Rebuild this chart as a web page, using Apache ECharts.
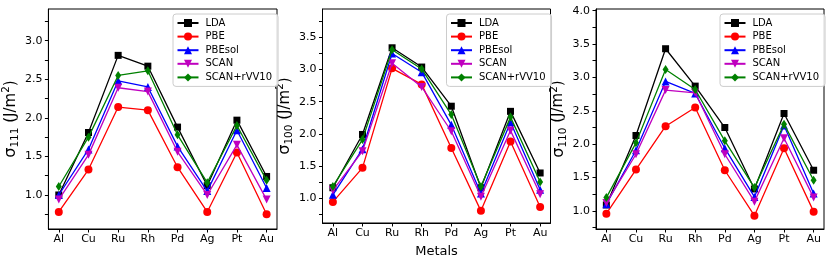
<!DOCTYPE html>
<html><head><meta charset="utf-8">
<script src="https://cdn.jsdelivr.net/npm/echarts@6/dist/echarts.min.js"></script>
<style>html,body{margin:0;padding:0;background:#fff}#c{width:831px;height:263px}</style>
</head><body><div id="c"></div>
<script>
const categories = ['Al','Cu','Ru','Rh','Pd','Ag','Pt','Au'];
const seriesNames = ['LDA','PBE','PBEsol','SCAN','SCAN+rVV10'];

// sigma_111
const s111_LDA    = [1.00, 1.81, 2.81, 2.67, 1.88, 1.12, 1.97, 1.24];
const s111_PBE    = [0.78, 1.33, 2.14, 2.10, 1.36, 0.78, 1.55, 0.75];
const s111_PBEsol = [1.00, 1.59, 2.48, 2.40, 1.63, 1.05, 1.84, 1.09];
const s111_SCAN   = [0.94, 1.52, 2.39, 2.34, 1.56, 1.00, 1.65, 0.94];
const s111_rVV10  = [1.11, 1.75, 2.55, 2.61, 1.78, 1.16, 1.90, 1.19];
// sigma_100
const s100_LDA    = [1.16, 1.99, 3.34, 3.04, 2.43, 1.16, 2.35, 1.39];
const s100_PBE    = [0.94, 1.47, 3.02, 2.77, 1.78, 0.80, 1.88, 0.86];
const s100_PBEsol = [1.05, 1.76, 3.25, 2.96, 2.14, 1.07, 2.18, 1.13];
const s100_SCAN   = [1.12, 1.73, 3.10, 2.73, 2.04, 1.02, 2.05, 1.06];
const s100_rVV10  = [1.18, 1.91, 3.31, 3.01, 2.30, 1.18, 2.26, 1.25];
// sigma_110
const s110_LDA    = [1.09, 2.13, 3.43, 2.87, 2.25, 1.33, 2.46, 1.61];
const s110_PBE    = [0.96, 1.62, 2.27, 2.55, 1.61, 0.93, 1.94, 0.99];
const s110_PBEsol = [1.10, 1.91, 2.94, 2.76, 1.94, 1.21, 2.28, 1.26];
const s110_SCAN   = [1.12, 1.85, 2.81, 2.77, 1.85, 1.14, 2.09, 1.20];
const s110_rVV10  = [1.20, 2.02, 3.12, 2.82, 2.05, 1.35, 2.30, 1.46];

// tick labels
const yLabels111 = [1.0, 1.5, 2.0, 2.5, 3.0];
const yTicks111  = [0.75, 1.0, 1.25, 1.5, 1.75, 2.0, 2.25, 2.5, 2.75, 3.0, 3.25];
const yLabels100 = [1.0, 1.5, 2.0, 2.5, 3.0, 3.5];
const yTicks100  = [0.75, 1.0, 1.25, 1.5, 1.75, 2.0, 2.25, 2.5, 2.75, 3.0, 3.25, 3.5, 3.75];
const yLabels110 = [1.0, 1.5, 2.0, 2.5, 3.0, 3.5, 4.0];
const yTicks110  = [0.75, 1.0, 1.25, 1.5, 1.75, 2.0, 2.25, 2.5, 2.75, 3.0, 3.25, 3.5, 3.75, 4.0];

const panels = [
  {sub:'111', data:[s111_LDA,s111_PBE,s111_PBEsol,s111_SCAN,s111_rVV10], labels:yLabels111, ticks:yTicks111, min:0.559, max:3.411, left:48, width:229, xname:''},
  {sub:'100', data:[s100_LDA,s100_PBE,s100_PBEsol,s100_SCAN,s100_rVV10], labels:yLabels100, ticks:yTicks100, min:0.611, max:3.944, left:322.5, width:228, xname:'Metals'},
  {sub:'110', data:[s110_LDA,s110_PBE,s110_PBEsol,s110_SCAN,s110_rVV10], labels:yLabels110, ticks:yTicks110, min:0.730, max:4.025, left:596, width:228, xname:''}
];

const styles = [
  {color:'#000000', symbol:'rect', size:7, rotate:0},
  {color:'#ff0000', symbol:'circle', size:8, rotate:0},
  {color:'#0000ff', symbol:'triangle', size:8, rotate:0},
  {color:'#bf00bf', symbol:'triangle', size:8, rotate:180},
  {color:'#008000', symbol:'diamond', size:[6,9], rotate:0}
];

const FONT = 'DejaVu Sans';
const idx = categories.map((_, i) => i);
const grids = [], xAxes = [], yAxes = [], series = [], legends = [];

panels.forEach((p, k) => {
  grids.push({left:p.left, top:9, width:p.width, height:220, show:true, borderColor:'#000', borderWidth:1, backgroundColor:'#fff', containLabel:false});
  xAxes.push({
    type:'value', gridIndex:k, min:-0.35, max:7.35,
    splitLine:{show:false},
    axisLine:{show:true, onZero:false, lineStyle:{color:'#000', width:1}},
    axisTick:{show:true, length:3.5, lineStyle:{color:'#000'}, customValues: idx},
    axisLabel:{show:true, customValues: idx, formatter: v => categories[Math.round(v)], color:'#000', fontFamily:FONT, fontSize:11, margin:5},
    name:p.xname, nameLocation:'middle', nameGap:22,
    nameTextStyle:{fontFamily:FONT, fontSize:13, color:'#000'}
  });
  yAxes.push({
    type:'value', gridIndex:k, min:p.min, max:p.max,
    splitLine:{show:false},
    axisLine:{show:true, onZero:false, lineStyle:{color:'#000', width:1}},
    axisTick:{show:true, length:3.5, lineStyle:{color:'#000'}, customValues:p.ticks},
    axisLabel:{show:true, customValues:p.labels, formatter: v => Number(v).toFixed(1), color:'#000', fontFamily:FONT, fontSize:11, margin:6},
    name:'{s|σ}{sub|' + p.sub + '}{n| (J/m}{sup|2}{n|)}',
    nameLocation:'middle', nameRotate:90, nameGap:25,
    nameTextStyle:{
      fontFamily:FONT, color:'#000',
      rich:{
        s:{fontFamily:FONT, fontSize:16, lineHeight:20, color:'#000'},
        n:{fontFamily:FONT, fontSize:15, lineHeight:20, color:'#000'},
        sub:{fontFamily:FONT, fontSize:10.5, lineHeight:11, verticalAlign:'bottom', color:'#000'},
        sup:{fontFamily:FONT, fontSize:10.5, lineHeight:11, verticalAlign:'top', color:'#000'}
      }
    }
  });
  p.data.forEach((arr, j) => {
    const st = styles[j];
    series.push({
      type:'line', name:seriesNames[j], xAxisIndex:k, yAxisIndex:k,
      data: arr.map((v, i) => [i, v]),
      symbol:st.symbol, symbolSize:st.size, symbolRotate:st.rotate,
      lineStyle:{color:st.color, width:1.3},
      itemStyle:{color:st.color, borderColor:st.color, borderWidth:0},
      emphasis:{disabled:true}, animation:false, z:2+j
    });
  });
  legends.push({
    data:seriesNames, orient:'vertical', left:p.left + p.width - 104, top:14,
    itemWidth:21, itemHeight:10, itemGap:3.6,
    padding:[4, 6, 4, 3.5],
    backgroundColor:'rgba(255,255,255,0.85)', borderColor:'#cccccc', borderWidth:1, borderRadius:3,
    textStyle:{fontFamily:FONT, fontSize:10, lineHeight:10, color:'#000', padding:[0,0,0,2]},
    selectedMode:false
  });
});

const chart = echarts.init(document.getElementById('c'), null, {renderer:'canvas'});
chart.setOption({
  animation:false,
  backgroundColor:'#fff',
  grid:grids, xAxis:xAxes, yAxis:yAxes, series:series, legend:legends
});
</script></body></html>
